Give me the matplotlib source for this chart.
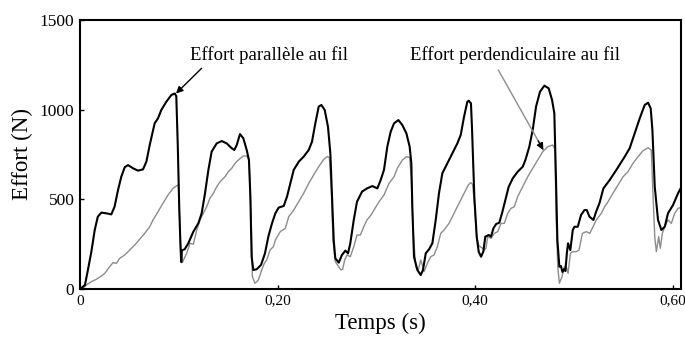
import matplotlib.pyplot as plt

# --- Data (time in s, force in N) ---
t_par = [0, 0.001, 0.005, 0.008, 0.0115, 0.0149, 0.018, 0.0216, 0.0267, 0.0317, 0.035, 0.0385,
         0.0418, 0.0453, 0.0486, 0.0537, 0.0587, 0.0638, 0.0672, 0.0706, 0.0756, 0.079, 0.0823,
         0.0874, 0.0925, 0.0960, 0.0975, 0.099, 0.1005, 0.1018, 0.1025, 0.1032, 0.106, 0.1097,
         0.1148, 0.1198, 0.1232, 0.1266, 0.13, 0.1333, 0.1384, 0.1435, 0.1485, 0.1536, 0.1563,
         0.1587, 0.162, 0.1654, 0.1688, 0.1711, 0.1725, 0.1738, 0.1755, 0.1789, 0.1833, 0.1873,
         0.1907, 0.1944, 0.1978, 0.2012, 0.2063, 0.2096, 0.213, 0.2164, 0.2215, 0.2265, 0.2316,
         0.2349, 0.2383, 0.2417, 0.2444, 0.2478, 0.2511, 0.2535, 0.2552, 0.2569, 0.2585, 0.262,
         0.2653, 0.2687, 0.2714, 0.2737, 0.2772, 0.2805, 0.2856, 0.2906, 0.296, 0.3011, 0.3045,
         0.3078, 0.3112, 0.3146, 0.318, 0.3224, 0.3264, 0.3305, 0.3338, 0.3355, 0.3365, 0.3382,
         0.3416, 0.345, 0.3473, 0.3501, 0.3534, 0.3568, 0.3602, 0.3635, 0.3669, 0.372, 0.377,
         0.3821, 0.3855, 0.3889, 0.3922, 0.3936, 0.3959, 0.397, 0.3993, 0.4017, 0.4037, 0.4061,
         0.4084, 0.4104, 0.4139, 0.4162, 0.4186, 0.4213, 0.4246, 0.4273, 0.4307, 0.4341, 0.4382,
         0.4432, 0.4483, 0.451, 0.455, 0.4584, 0.4618, 0.4658, 0.4702, 0.4746, 0.478, 0.4803,
         0.482, 0.4834, 0.4854, 0.487, 0.4885, 0.49, 0.4915, 0.493, 0.4942, 0.4965, 0.499, 0.5007,
         0.504, 0.5074, 0.5108, 0.5132, 0.5159, 0.5199, 0.5226, 0.526, 0.53, 0.5364, 0.5431,
         0.5516, 0.5566, 0.5617, 0.5668, 0.5718, 0.5752, 0.5779, 0.5796, 0.582, 0.5853, 0.5887,
         0.5921, 0.5954, 0.6005, 0.6056, 0.6086]
f_par = [0, 4, 22, 106, 208, 329, 403, 426, 422, 416, 459, 552,
         626, 679, 691, 673, 660, 667, 710, 803, 924, 952, 998,
         1044, 1082, 1090, 1075, 800, 450, 230, 150, 215, 222, 255,
         320, 366, 422, 534, 664, 766, 812, 825, 812, 785, 775,
         803, 864, 840, 775, 719, 515, 180, 106, 110, 134, 199,
         292, 366, 422, 454, 463, 515, 589, 664, 710, 738, 775,
         821, 924, 1017, 1026, 998, 905, 757, 515, 273, 171, 147,
         190, 214, 199, 255, 385, 487, 543, 561, 574, 561, 608,
         664, 794, 877, 924, 942, 914, 868, 794, 701, 459, 180,
         106, 78, 106, 199, 221, 255, 385, 534, 645, 701, 757,
         812, 859, 961, 1044, 1050, 1035, 887, 515, 292, 208, 180,
         208, 292, 301, 292, 338, 362, 370, 422, 496, 570, 617,
         654, 682, 719, 794, 887, 1017, 1100, 1134, 1119, 1054, 980,
         608, 273, 124, 128, 95, 110, 100, 200, 255, 217, 329, 347,
         347, 413, 440, 440, 403, 385, 431, 478, 561, 608, 664,
         738, 785, 868, 952, 1026, 1039, 1007, 887, 570, 385, 329,
         347, 422, 468, 534, 565]

t_perp = [0, 0.003, 0.0064, 0.0115, 0.0165, 0.0216, 0.025, 0.03, 0.0334, 0.0368, 0.0402, 0.0453,
          0.0503, 0.0554, 0.0604, 0.0655, 0.0706, 0.0739, 0.079, 0.084, 0.0891, 0.0942, 0.0976,
          0.0996, 0.1006, 0.1018, 0.1036, 0.108, 0.1114, 0.1148, 0.1182, 0.1215, 0.1249, 0.1283,
          0.1316, 0.135, 0.1384, 0.1418, 0.1468, 0.1502, 0.1536, 0.157, 0.1603, 0.1654, 0.1688,
          0.1711, 0.1732, 0.1745, 0.1772, 0.1806, 0.184, 0.1866, 0.1891, 0.1924, 0.1958, 0.1978,
          0.2028, 0.2079, 0.2113, 0.2164, 0.2215, 0.2265, 0.2316, 0.2366, 0.2417, 0.2468, 0.2501,
          0.2525, 0.2545, 0.2562, 0.2585, 0.262, 0.2643, 0.266, 0.268, 0.2704, 0.2737, 0.2772,
          0.2805, 0.2839, 0.2873, 0.2906, 0.2947, 0.2977, 0.3028, 0.3078, 0.3129, 0.318, 0.3213,
          0.3264, 0.3305, 0.3338, 0.3355, 0.3372, 0.34, 0.3426, 0.345, 0.3466, 0.3484, 0.3517,
          0.3551, 0.3585, 0.3618, 0.3653, 0.3686, 0.3737, 0.3787, 0.3838, 0.3889, 0.3932, 0.3955,
          0.3975, 0.3993, 0.4017, 0.404, 0.407, 0.4094, 0.4111, 0.4128, 0.4162, 0.4195, 0.423,
          0.4263, 0.4297, 0.4331, 0.4365, 0.4398, 0.4432, 0.4483, 0.4534, 0.4584, 0.4635, 0.4686,
          0.4737, 0.4787, 0.481, 0.482, 0.4838, 0.4854, 0.4881, 0.4904, 0.4925, 0.4942, 0.4966,
          0.4986, 0.5026, 0.5053, 0.5087, 0.5127, 0.5162, 0.5195, 0.5228, 0.5279, 0.5313, 0.5347,
          0.5397, 0.5448, 0.5499, 0.5549, 0.56, 0.5651, 0.5701, 0.5752, 0.5785, 0.5803, 0.582,
          0.5836, 0.586, 0.5876, 0.5897, 0.5921, 0.5954, 0.5988, 0.6022, 0.6056, 0.6086]
f_perp = [0, 4, 22, 41, 54, 72, 87, 124, 147, 143, 171, 190,
          217, 245, 277, 310, 347, 385, 431, 478, 524, 561, 575,
          580, 450, 250, 147, 199, 255, 250, 329, 385, 422, 459,
          506, 534, 570, 598, 626, 654, 673, 701, 719, 742, 742,
          719, 422, 69, 32, 50, 106, 143, 162, 217, 236, 273,
          320, 338, 403, 440, 487, 534, 589, 636, 682, 723, 738,
          734, 552, 273, 152, 124, 106, 110, 162, 190, 180, 236,
          301, 301, 347, 385, 413, 440, 487, 524, 589, 626, 673,
          719, 738, 734, 608, 329, 124, 106, 162, 134, 97, 143,
          180, 190, 236, 310, 329, 366, 422, 478, 534, 580, 593,
          585, 480, 292, 240, 230, 217, 227, 292, 282, 310, 320,
          366, 366, 422, 450, 459, 515, 570, 626, 673, 719, 766,
          794, 803, 780, 422, 124, 32, 69, 124, 124, 87, 199,
          208, 208, 217, 310, 320, 310, 347, 385, 422, 459, 487,
          534, 580, 626, 654, 701, 738, 771, 788, 775, 515, 292,
          208, 292, 227, 310, 347, 385, 366, 422, 450, 455]

x_ticks = [0, 0.2, 0.4, 0.6]
x_tick_labels = ["0", "0,20", "0,40", "0,60"]
y_ticks = [0, 500, 1000, 1500]
y_tick_labels = ["0", "500", "1000", "1500"]

plt.rcParams['font.family'] = ['Liberation Serif', 'DejaVu Serif']

fig = plt.figure(figsize=(6.85, 3.4), dpi=100)
ax = fig.add_axes([0.1168, 0.15, 0.8774, 0.7912])

ax.plot(t_perp, f_perp, color="#8c8c8c", lw=1.0)
ax.plot(t_par, f_par, color="black", lw=1.5)

ax.set_xlim(0, 0.6086)
ax.set_ylim(0, 1500)
ax.set_xticks(x_ticks)
ax.set_xticklabels(x_tick_labels)
ax.set_yticks(y_ticks)
ax.set_yticklabels(y_tick_labels)
ax.tick_params(direction="in", length=3, width=1, pad=4)
ax.tick_params(axis="x", labelsize=11)
ax.tick_params(axis="y", labelsize=12.5)
for s in ax.spines.values():
    s.set_linewidth(1.5)

ax.set_xlabel("Temps (s)", fontsize=16.5, labelpad=4)
ax.set_ylabel("Effort (N)", fontsize=16.5, labelpad=5)

# annotations
ax.text(0.1114, 1305, "Effort parallèle au fil", fontsize=13.5, ha="left", va="center")
ax.annotate("", xy=(0.0972, 1090), xytext=(0.1232, 1231),
            arrowprops=dict(arrowstyle="-|>", color="black", lw=1.0,
                            mutation_scale=10, shrinkA=0, shrinkB=0))

ax.text(0.3342, 1305, "Effort perdendiculaire au fil", fontsize=13.5, ha="left", va="center")
ax.annotate("", xy=(0.4692, 775), xytext=(0.4236, 1221),
            arrowprops=dict(arrowstyle="-", color="#8c8c8c", lw=1.0, shrinkA=0, shrinkB=0))
ax.annotate("", xy=(0.4692, 775), xytext=(0.4640, 826),
            arrowprops=dict(arrowstyle="-|>", color="black", lw=1.0,
                            mutation_scale=10, shrinkA=0, shrinkB=0))

fig.savefig("out.png", dpi=100)
